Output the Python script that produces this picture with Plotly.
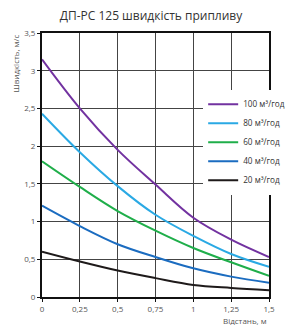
import plotly.graph_objects as go

distance = [0, 0.25, 0.5, 0.75, 1.0, 1.25, 1.5]
v100 = [3.15, 2.50, 1.95, 1.49, 1.05, 0.76, 0.53]
v80 = [2.43, 1.92, 1.47, 1.09, 0.81, 0.57, 0.40]
v60 = [1.80, 1.46, 1.14, 0.88, 0.65, 0.46, 0.28]
v40 = [1.21, 0.94, 0.70, 0.53, 0.38, 0.27, 0.19]
v20 = [0.60, 0.47, 0.35, 0.25, 0.16, 0.12, 0.09]

series = [
    ("100 м³/год", v100, "#7232a0"),
    ("80 м³/год", v80, "#2aa9e4"),
    ("60 м³/год", v60, "#1fae4a"),
    ("40 м³/год", v40, "#1b6cc0"),
    ("20 м³/год", v20, "#1e1a1a"),
]

x_ticks = [0, 0.25, 0.5, 0.75, 1, 1.25, 1.5]
y_ticks = [0, 0.5, 1, 1.5, 2, 2.5, 3, 3.5]

fig = go.Figure()
for name, vals, col in series:
    fig.add_trace(go.Scatter(x=distance, y=vals, name=name, mode="lines",
                             line=dict(color=col, width=2, shape="spline", smoothing=1.0)))

font_family = "Open Sans, Noto Sans, sans-serif"
fig.update_layout(
    width=302, height=325,
    margin=dict(l=42, r=12, t=33, b=28),
    paper_bgcolor="white", plot_bgcolor="white",
    separators=", ",
    font=dict(family=font_family, size=8, color="#555"),
    title=dict(text="ДП-РС 125 швидкість припливу", x=0.5, xanchor="center",
               y=1 - 16/325, yanchor="middle",
               font=dict(size=12, color="#333", family=font_family)),
    showlegend=True,
    legend=dict(x=0.71, y=0.785, xanchor="left", yanchor="top",
                bgcolor="white", borderwidth=0,
                font=dict(size=8.2, color="#333"), itemwidth=30,
                tracegroupgap=0),
    xaxis=dict(range=[0, 1.5], tickvals=x_ticks, showgrid=True,
               gridcolor="#444", gridwidth=1, zeroline=False,
               showline=True, linecolor="#111", linewidth=2, mirror=True,
               ticks="outside", ticklen=3, tickcolor="#111",
               tickfont=dict(size=8, color="#555")),
    yaxis=dict(range=[0, 3.5], tickvals=y_ticks, showgrid=True,
               gridcolor="#444", gridwidth=1, zeroline=False,
               showline=True, linecolor="#111", linewidth=2, mirror=True,
               ticks="outside", ticklen=3, tickcolor="#111",
               tickfont=dict(size=8, color="#555")),
    annotations=[
        dict(text="Швидкість, м/с", xref="paper", yref="paper",
             x=-30/248, y=1.0, xanchor="center", yanchor="top", textangle=-90,
             showarrow=False, font=dict(size=8, color="#555")),
        dict(text="Відстань, м", xref="paper", yref="paper",
             x=1.0, y=-16/264, xanchor="right", yanchor="top",
             showarrow=False, font=dict(size=8, color="#555")),
    ],
)

fig.write_html("out.html", config={"displayModeBar": False},
               post_script="document.body.style.margin='0';document.body.style.padding='0';")
